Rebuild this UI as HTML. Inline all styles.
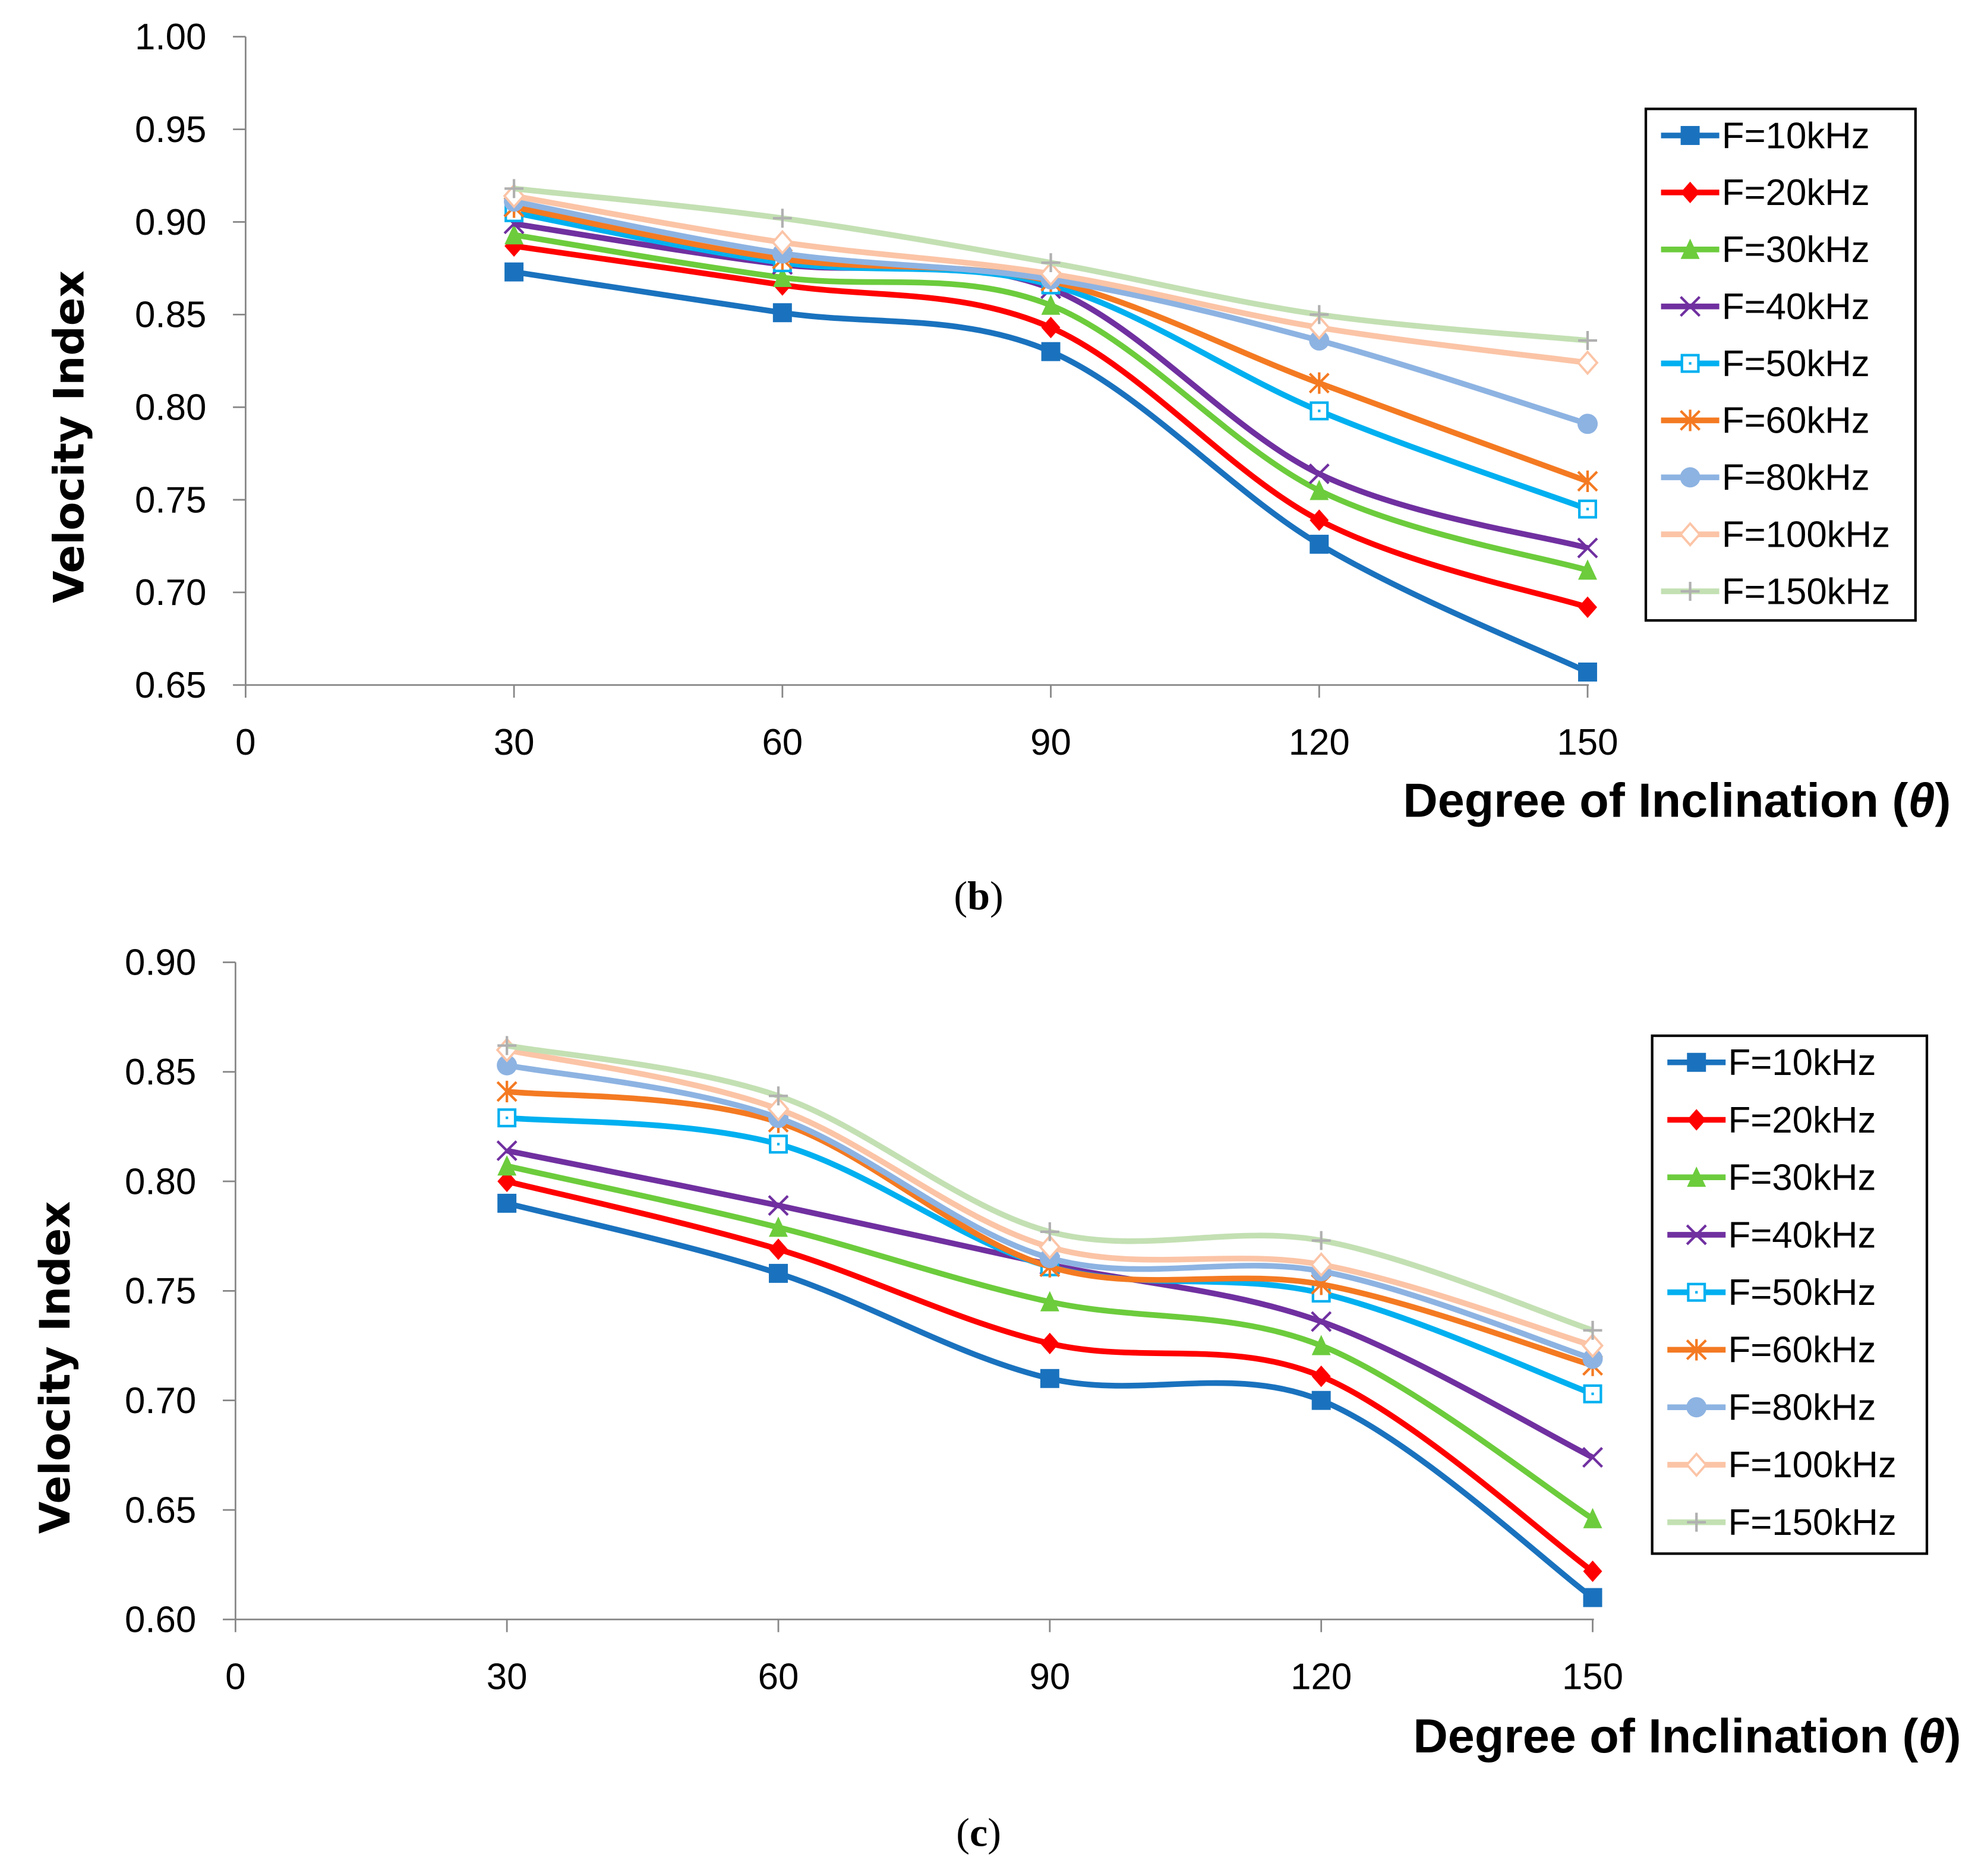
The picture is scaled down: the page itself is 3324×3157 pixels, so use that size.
<!DOCTYPE html>
<html><head><meta charset="utf-8"><style>
html,body{margin:0;padding:0;background:#fff}
svg{display:block}
.tk{font-family:"Liberation Sans Narrow","Liberation Sans",sans-serif;font-size:29px;fill:#000}
.lg{font-family:"Liberation Sans Narrow","Liberation Sans",sans-serif;font-size:29px;fill:#000}
.ttl{font-family:"Liberation Sans Narrow","Liberation Sans",sans-serif;font-weight:bold;font-size:38px;fill:#000}
.yt{font-family:"DejaVu Sans","Liberation Sans",sans-serif;font-weight:bold;font-size:33px;fill:#000}
.cap{font-family:"Liberation Serif",serif;font-size:32px;fill:#000}
</style></head><body>
<svg id="root" width="3324" height="3157" viewBox="0 0 1560 1481.6" preserveAspectRatio="none" xmlns="http://www.w3.org/2000/svg"></svg>
<script>
const categories=[30,60,90,120,150];
const seriesNames=["F=10kHz","F=20kHz","F=30kHz","F=40kHz","F=50kHz","F=60kHz","F=80kHz","F=100kHz","F=150kHz"];
const yTicksB=["0.65","0.70","0.75","0.80","0.85","0.90","0.95","1.00"];
const yTicksC=["0.60","0.65","0.70","0.75","0.80","0.85","0.90"];
const xTicks=[0,30,60,90,120,150];
const b10=[0.873,0.851,0.830,0.726,0.657];
const b20=[0.887,0.866,0.843,0.739,0.692];
const b30=[0.893,0.870,0.855,0.755,0.712];
const b40=[0.899,0.877,0.864,0.764,0.724];
const b50=[0.905,0.878,0.866,0.798,0.745];
const b60=[0.908,0.880,0.868,0.813,0.760];
const b80=[0.911,0.883,0.869,0.836,0.791];
const b100=[0.914,0.889,0.872,0.843,0.824];
const b150=[0.918,0.902,0.878,0.850,0.836];
const c10=[0.790,0.758,0.710,0.700,0.610];
const c20=[0.800,0.769,0.726,0.711,0.622];
const c30=[0.807,0.779,0.745,0.725,0.646];
const c40=[0.814,0.789,0.762,0.736,0.674];
const c50=[0.829,0.817,0.761,0.749,0.703];
const c60=[0.841,0.827,0.761,0.753,0.716];
const c80=[0.853,0.829,0.765,0.759,0.719];
const c100=[0.860,0.833,0.770,0.762,0.725];
const c150=[0.862,0.839,0.777,0.773,0.732];

const colors=["#1a72be","#ff0000","#6ccc3c","#7030a0","#00b0f0","#f47a22","#8db3e2","#fbc4a6","#c3e0b3"];
const markers=["sq","dia","tri","x","osq","ast","circ","odia","plus"];
const NS="http://www.w3.org/2000/svg";
const root=document.getElementById('root');
function mk(tag,attrs,parent){const e=document.createElementNS(NS,tag);for(const k in attrs)e.setAttribute(k,attrs[k]);(parent||root).appendChild(e);return e;}

function marker(g,type,x,y,col){
  let e;const s=7.5;
  if(type==="sq")e=mk('rect',{x:x-s,y:y-s,width:2*s,height:2*s,fill:col},g);
  else if(type==="dia")e=mk('path',{d:`M${x} ${y-s-1}L${x+s} ${y}L${x} ${y+s+1}L${x-s} ${y}Z`,fill:col},g);
  else if(type==="tri")e=mk('path',{d:`M${x} ${y-s-1}L${x+s} ${y+s}L${x-s} ${y+s}Z`,fill:col},g);
  else if(type==="x")e=mk('path',{d:`M${x-s} ${y-s}L${x+s} ${y+s}M${x+s} ${y-s}L${x-s} ${y+s}`,stroke:col,'stroke-width':2,fill:'none'},g);
  else if(type==="osq"){e=mk('rect',{x:x-s+1,y:y-s+1,width:2*s-2,height:2*s-2,fill:'#fff',stroke:col,'stroke-width':2},g);mk('rect',{x:x-1,y:y-1,width:2,height:2,fill:col},g);}
  else if(type==="ast")e=mk('path',{d:`M${x-s} ${y-s}L${x+s} ${y+s}M${x+s} ${y-s}L${x-s} ${y+s}M${x} ${y-s-1}L${x} ${y+s+1}`,stroke:col,'stroke-width':2,fill:'none'},g);
  else if(type==="circ")e=mk('circle',{cx:x,cy:y,r:s+0.5,fill:col},g);
  else if(type==="odia")e=mk('path',{d:`M${x} ${y-s-1}L${x+s} ${y}L${x} ${y+s+1}L${x-s} ${y}Z`,fill:'#fff',stroke:col,'stroke-width':1.8},g);
  else if(type==="plus")e=mk('path',{d:`M${x-s} ${y}L${x+s} ${y}M${x} ${y-s}L${x} ${y+s}`,stroke:'#b0b0b0','stroke-width':2,fill:'none'},g);
  
  
}
function spline(pts){
  let d=`M${pts[0][0]} ${pts[0][1]}`;
  for(let i=0;i<pts.length-1;i++){
    const p0=pts[Math.max(0,i-1)],p1=pts[i],p2=pts[i+1],p3=pts[Math.min(pts.length-1,i+2)];
    const c1=[p1[0]+(p2[0]-p0[0])/6,p1[1]+(p2[1]-p0[1])/6];
    const c2=[p2[0]-(p3[0]-p1[0])/6,p2[1]-(p3[1]-p1[1])/6];
    d+=`C${c1[0]} ${c1[1]} ${c2[0]} ${c2[1]} ${p2[0]} ${p2[1]}`;
  }
  return d;
}
function chart(cfg){
  const g=mk('g',{});
  
  
  const X=v=>cfg.x0+(v-0)/150*(cfg.x1-cfg.x0);
  const Y=v=>cfg.yB+(v-cfg.ymin)/(cfg.ymax-cfg.ymin)*(cfg.yT-cfg.yB);
  const ya=mk('line',{x1:cfg.x0,y1:cfg.yT,x2:cfg.x0,y2:cfg.yB,stroke:'#868686','stroke-width':1.3},g);
  
  const xa=mk('line',{x1:cfg.x0,y1:cfg.yB,x2:cfg.x1+1,y2:cfg.yB,stroke:'#868686','stroke-width':1.3},g);
  
  cfg.yt.forEach(t=>{const y=Y(parseFloat(t));
    mk('line',{x1:cfg.x0-10,y1:y,x2:cfg.x0,y2:y,stroke:'#868686','stroke-width':1.3},g);
    const e=mk('text',{x:cfg.x0-31,y:y+10,'text-anchor':'end',class:'tk'},g);e.textContent=t;
    });
  xTicks.forEach(t=>{const x=X(t);
    mk('line',{x1:x,y1:cfg.yB,x2:x,y2:cfg.yB+10,stroke:'#868686','stroke-width':1.3},g);
    const e=mk('text',{x:x,y:cfg.yB+55,'text-anchor':'middle',class:'tk'},g);e.textContent=t;
    });
  cfg.data.forEach((arr,i)=>{
    const pts=categories.map((c,j)=>[X(c),Y(arr[j])]);
    const p=mk('path',{d:spline(pts),fill:'none',stroke:colors[i],'stroke-width':4.5},g);
    
    
    pts.forEach(pt=>marker(g,markers[i],pt[0],pt[1],colors[i]));
  });
  const lg=mk('g',{},g);
  
  mk('rect',{x:cfg.lx,y:cfg.ly,width:cfg.lw,height:cfg.lh,fill:'#fff',stroke:'#000','stroke-width':2},lg);
  seriesNames.forEach((n,i)=>{
    const y=cfg.ly+21+i*cfg.lstep;
    mk('line',{x1:cfg.lx+12,y1:y,x2:cfg.lx+58,y2:y,stroke:colors[i],'stroke-width':4.5},lg);
    marker(lg,markers[i],cfg.lx+35,y,colors[i]);
    const t=mk('text',{x:cfg.lx+60,y:y+10,class:'lg'},lg);t.textContent=n;
    
  });
  const yt=mk('text',{x:0,y:0,transform:`translate(${cfg.ytx},${cfg.yty}) rotate(-90)`,'text-anchor':'middle',class:'yt'},g);
  yt.textContent='Velocity Index';
  const xt=mk('text',{x:cfg.xtx,y:cfg.xty,'text-anchor':'end',class:'ttl'},g);
  xt.innerHTML='Degree of Inclination (<tspan font-style="italic">θ</tspan>)';
  
  const cp=mk('text',{x:773,y:cfg.capy,'text-anchor':'middle',class:'cap'},g);
  cp.innerHTML=cfg.cap;
}
chart({name:'chart-b',x0:194,x1:1254,yT:29,yB:541,ymin:0.65,ymax:1.00,yt:yTicksB,
  data:[b10,b20,b30,b40,b50,b60,b80,b100,b150],lx:1300,ly:86,lw:213,lh:404,lstep:45,
  ytx:66,yty:345,xtx:1541,xty:645,capy:718,cap:'(<tspan font-weight="bold">b</tspan>)'});
chart({name:'chart-c',x0:186,x1:1258,yT:760,yB:1279,ymin:0.60,ymax:0.90,yt:yTicksC,
  data:[c10,c20,c30,c40,c50,c60,c80,c100,c150],lx:1305,ly:818,lw:217,lh:409,lstep:45.4,
  ytx:55,yty:1080,xtx:1549,xty:1384,capy:1458,cap:'(<tspan font-weight="bold">c</tspan>)'});
</script>
</body></html>
